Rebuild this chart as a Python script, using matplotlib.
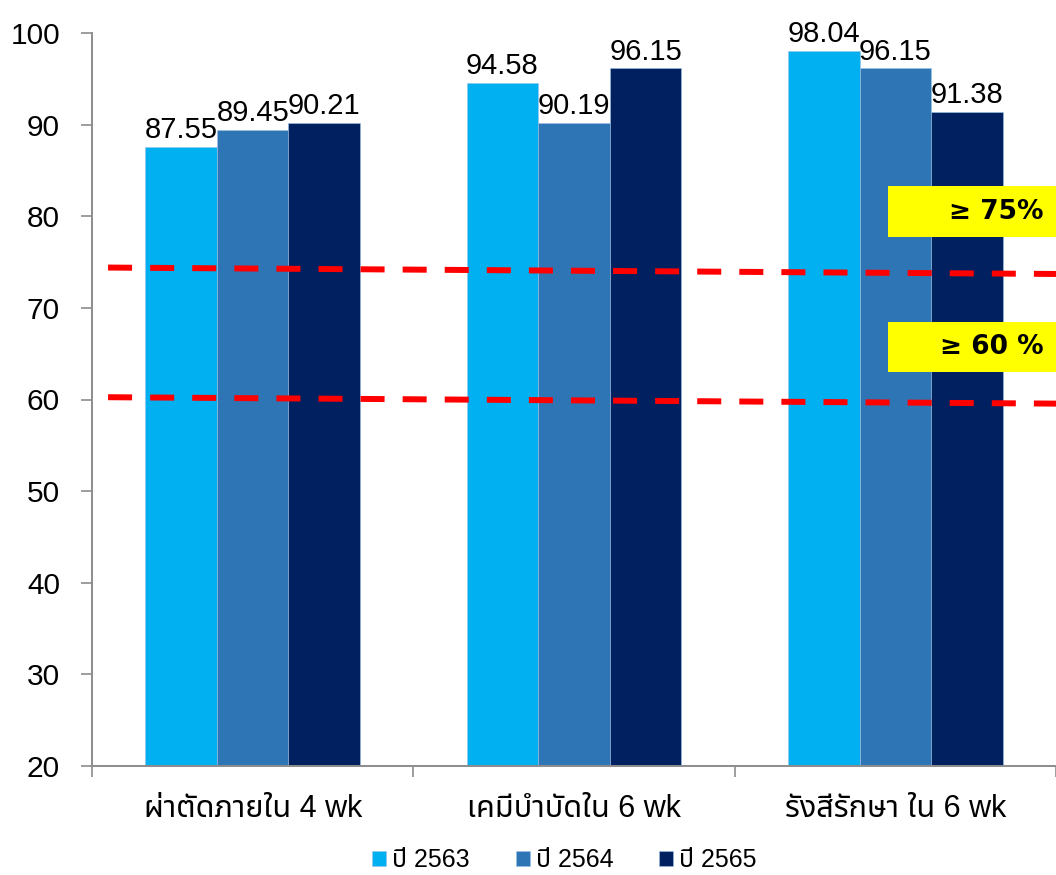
import numpy as np
import matplotlib
matplotlib.use("Agg")
import matplotlib.pyplot as plt
from matplotlib import font_manager
from matplotlib.ft2font import FT2Font
from matplotlib.patches import Rectangle

# ---- data ----
categories = ["ผ่าตัดภายใน 4 wk", "เคมีบำบัดใน 6 wk", "รังสีรักษา ใน 6 wk"]
series_names = ["ปี 2563", "ปี 2564", "ปี 2565"]
values_2563 = [87.55, 94.58, 98.04]
values_2564 = [89.45, 90.19, 96.15]
values_2565 = [90.21, 96.15, 91.38]
target_high = (74.4, 73.7)   # dashed target line, left and right end
target_low = (60.25, 59.55)
target_labels = ["≥ 75%", "≥ 60 %"]
y_ticks = [20, 30, 40, 50, 60, 70, 80, 90, 100]

colors = ["#00B0F0", "#2E75B6", "#002060"]


def find_thai_family():
    preferred = ["Tahoma", "Noto Sans Thai", "Noto Sans Thai UI", "Loma",
                 "Garuda", "Kinnari", "Norasi", "Sarabun", "Waree", "Umpush"]
    found = {}
    for fe in font_manager.fontManager.ttflist:
        try:
            cmap = FT2Font(fe.fname).get_charmap()
        except Exception:
            continue
        if 0x0E1C in cmap and 0x0E48 in cmap:
            found.setdefault(fe.name, fe.fname)
    for name in preferred:
        if name in found:
            return name
    return next(iter(found), None)


thai = find_thai_family()
families = ["Liberation Sans"] + ([thai] if thai else []) + ["DejaVu Sans"]
plt.rcParams["font.family"] = families
plt.rcParams["lines.scale_dashes"] = False

fig = plt.figure(figsize=(10.56, 8.75), dpi=100)
ax = fig.add_axes([92 / 1056, 1 - 766 / 875, 1 - 92 / 1056, (766 - 33) / 875])

x = np.arange(len(categories))
width = 0.223
all_series = [values_2563, values_2564, values_2565]
for i, (vals, name, c) in enumerate(zip(all_series, series_names, colors)):
    pos = x + (i - 1) * width
    ax.bar(pos, vals, width, color=c, label=name,
           edgecolor="#9DC3E6", linewidth=0.4, zorder=2)
    for xp, v in zip(pos, vals):
        ax.text(xp, v + 0.3, f"{v:.2f}", ha="center", va="bottom",
                fontsize=21, color="black", zorder=4)

ax.set_xlim(-0.5, 2.5)
ax.set_ylim(20, 100)
ax.set_yticks(y_ticks)
ax.tick_params(axis="y", labelsize=21.5, length=8, width=1.2, color="#8C8C8C",
               pad=15, direction="out")
ax.set_xticks(x)
ax.set_xticklabels(categories, fontsize=22)
ax.tick_params(axis="x", length=0, pad=20)
ax.set_xticks([-0.5, 0.5, 1.5, 2.5], minor=True)
ax.tick_params(axis="x", which="minor", length=8, width=1.2, color="#8C8C8C",
               direction="out")

for side in ["top", "right"]:
    ax.spines[side].set_visible(False)
for side in ["left", "bottom"]:
    ax.spines[side].set_color("#8C8C8C")
    ax.spines[side].set_linewidth(1.4)

# target lines
x0 = -0.45
for (y_l, y_r) in [target_high, target_low]:
    ax.plot([x0, 2.5], [y_l, y_r], color="#FF0000", lw=4.3,
            dashes=(17.3, 13), zorder=3, clip_on=False)

# yellow target boxes
box_x0 = -0.5 + (888 - 92) / 321.33
boxes = [(77.7, 83.3), (63.0, 68.5)]
for (yb, yt), lab in zip(boxes, target_labels):
    ax.add_patch(Rectangle((box_x0, yb), 2.5 - box_x0, yt - yb,
                           facecolor="#FFFF00", edgecolor="none", zorder=5,
                           clip_on=False))
    ax.text(2.5 - 0.04, (yb + yt) / 2, lab, ha="right", va="center",
            fontsize=19, fontweight="bold", color="black", zorder=6,
            family=["DejaVu Sans"])

fig.legend(loc="center", bbox_to_anchor=(0.5346, 0.0172), ncol=3,
           frameon=False, fontsize=18, handlelength=0.56,
           handleheight=0.56, handletextpad=0.24, columnspacing=1.84,
           borderpad=0.1)

fig.savefig("out.png", dpi=100)
